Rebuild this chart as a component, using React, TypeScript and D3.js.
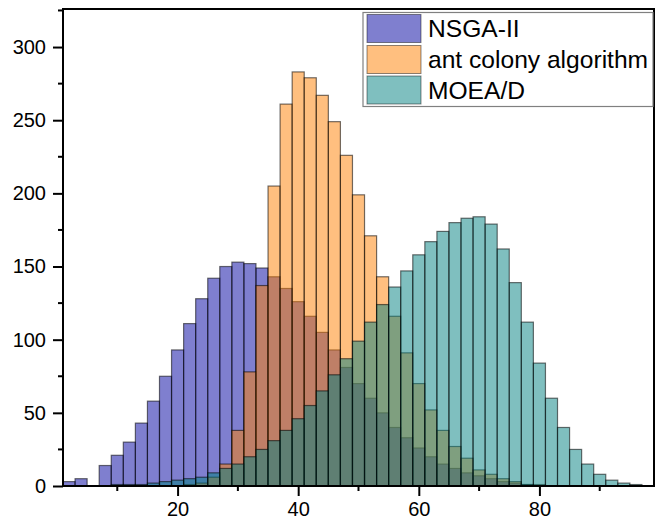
import React, { useEffect, useRef } from 'react'
import * as d3 from 'd3'

// bin centres, bins are 2 wide
const binCenters = [
  2, 4, 6, 8, 10, 12, 14, 16, 18, 20, 22, 24, 26, 28, 30, 32, 34, 36, 38, 40, 42, 44, 46, 48,
  50, 52, 54, 56, 58, 60, 62, 64, 66, 68, 70, 72, 74, 76, 78, 80, 82, 84, 86, 88, 90, 92, 94, 96,
]

const nsga = [
  3, 5, 0, 14, 21, 30, 43, 58, 75, 93, 111, 128, 142, 150, 153, 152, 149, 143, 135, 126, 116, 105, 93, 81,
  70, 60, 50, 40, 33, 26, 20, 15, 12, 9, 7, 5, 3, 2, 1, 0, 0, 0, 0, 0, 0, 0, 0, 0,
]

const antColony = [
  0, 0, 0, 0, 0, 0, 0, 0, 0, 0, 1, 2, 6, 15, 38, 78, 137, 205, 261, 283, 279, 267, 249, 226,
  199, 171, 143, 116, 91, 70, 52, 38, 27, 19, 11, 8, 5, 3, 1, 1, 0, 0, 0, 0, 0, 0, 0, 0,
]

const moead = [
  0, 0, 0, 0, 1, 1, 1, 2, 3, 4, 5, 6, 9, 12, 15, 20, 25, 31, 38, 46, 55, 65, 76, 87,
  99, 112, 124, 136, 147, 158, 167, 174, 180, 183, 184, 179, 162, 139, 112, 84, 60, 40, 25, 15, 8, 4, 2, 1,
]

const seriesNames = ['NSGA-II', 'ant colony algorithm', 'MOEA/D']
const seriesColors = ['#0000a0', '#ff8000', '#008080']
const seriesValues = [nsga, antColony, moead]

const yTicks = [0, 50, 100, 150, 200, 250, 300]
const xTicks = [20, 40, 60, 80]

export default function App(): React.ReactElement {
  const ref = useRef<HTMLDivElement>(null)

  useEffect(() => {
    const width = 664
    const height = 519
    const left = 63
    const right = 654
    const top = 9
    const bottom = 486
    const font = '"Liberation Sans", Arial, sans-serif'

    const x = d3.scaleLinear().domain([1, 99]).range([left, right])
    const y = d3.scaleLinear().domain([0, 326]).range([bottom, top])

    d3.select(ref.current).select('svg').remove()

    const svg = d3
      .select(ref.current)
      .append('svg')
      .attr('width', width)
      .attr('height', height)
      .attr('viewBox', `0 0 ${width} ${height}`)
      .style('position', 'absolute')
      .style('left', '0px')
      .style('top', '0px')
      .style('font-family', font)

    svg.append('rect').attr('width', width).attr('height', height).attr('fill', '#fff')

    seriesValues.forEach((vals, si) => {
      const rows = binCenters.map((c, i) => ({ c, v: vals[i] })).filter((d) => d.v > 0)
      svg
        .append('g')
        .selectAll('rect')
        .data(rows)
        .join('rect')
        .attr('x', (d) => x(d.c - 1))
        .attr('width', (d) => x(d.c + 1) - x(d.c - 1))
        .attr('y', (d) => y(d.v))
        .attr('height', (d) => y(0) - y(d.v))
        .attr('fill', seriesColors[si])
        .attr('fill-opacity', 0.5)
        .attr('stroke', '#000')
        .attr('stroke-opacity', 0.55)
        .attr('stroke-width', 1.2)
    })

    // x axis
    const gx = svg.append('g').attr('transform', `translate(0,${bottom})`)
    gx.call(
      d3
        .axisBottom(x)
        .tickValues(xTicks)
        .tickSize(10)
        .tickSizeOuter(0)
        .tickPadding(6)
    )
    gx.select('.domain').remove()
    gx.selectAll('line').attr('stroke', '#000').attr('stroke-width', 2)
    gx.selectAll('text').attr('font-size', 20).attr('font-family', font).attr('fill', '#000')
    gx.selectAll('.minor')
      .data([10, 30, 50, 70, 90])
      .join('line')
      .attr('x1', (d) => x(d))
      .attr('x2', (d) => x(d))
      .attr('y1', 0)
      .attr('y2', 5)
      .attr('stroke', '#000')
      .attr('stroke-width', 2)

    // y axis
    const gy = svg.append('g').attr('transform', `translate(${left},0)`)
    gy.call(d3.axisLeft(y).tickValues(yTicks).tickSize(10).tickSizeOuter(0).tickPadding(7))
    gy.select('.domain').remove()
    gy.selectAll('line').attr('stroke', '#000').attr('stroke-width', 2)
    gy.selectAll('text').attr('font-size', 20).attr('font-family', font).attr('fill', '#000')
    gy.selectAll('.minor')
      .data([25, 75, 125, 175, 225, 275, 325])
      .join('line')
      .attr('x1', 0)
      .attr('x2', -5)
      .attr('y1', (d) => y(d))
      .attr('y2', (d) => y(d))
      .attr('stroke', '#000')
      .attr('stroke-width', 2)

    // frame
    svg
      .append('rect')
      .attr('x', left)
      .attr('y', top)
      .attr('width', right - left)
      .attr('height', bottom - top)
      .attr('fill', 'none')
      .attr('stroke', '#000')
      .attr('stroke-width', 2)

    // legend
    const lg = svg.append('g')
    lg.append('rect')
      .attr('x', 363)
      .attr('y', 12.5)
      .attr('width', 290)
      .attr('height', 94)
      .attr('fill', '#fff')
      .attr('stroke', '#808080')
      .attr('stroke-width', 1.2)
    const rowsY = [14.5, 45.5, 76]
    seriesNames.forEach((name, i) => {
      lg.append('rect')
        .attr('x', 367)
        .attr('y', rowsY[i])
        .attr('width', 54)
        .attr('height', 28)
        .attr('fill', seriesColors[i])
        .attr('fill-opacity', 0.5)
        .attr('stroke', '#000')
        .attr('stroke-opacity', 0.45)
        .attr('stroke-width', 1)
      lg.append('text')
        .attr('x', 428)
        .attr('y', rowsY[i] + 14 + 8.8)
        .attr('font-size', 24.6)
        .attr('fill', '#000')
        .text(name)
    })
  }, [])

  return <div ref={ref}></div>
}
